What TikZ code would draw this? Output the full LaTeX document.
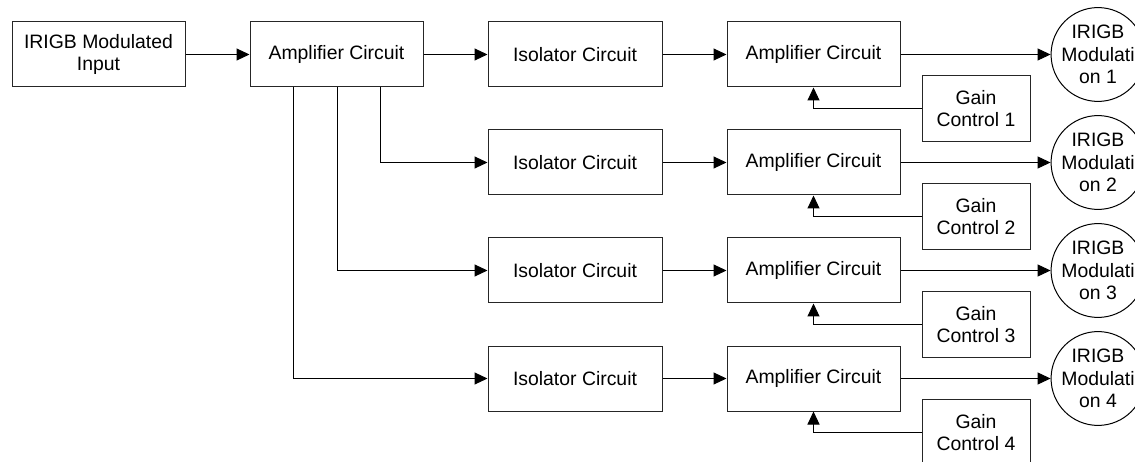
\documentclass[tikz,border=0pt]{standalone}
\usepackage{fontspec}
\setmainfont{Liberation Sans}
\usetikzlibrary{arrows.meta}
\begin{document}
\begin{tikzpicture}[x=1pt,y=-1pt,
  font=\fontsize{19.4}{22.5}\selectfont,
  blockbox/.style={draw=black!85, line width=1pt, inner sep=0pt, align=center,
    minimum width=173pt, minimum height=65pt},
  gainbox/.style={blockbox, minimum width=108pt, minimum height=66pt},
  outcircle/.style={draw=black, line width=1pt, circle, inner sep=0pt,
    minimum size=92pt, align=center},
  link/.style={draw=black, line width=1pt},
  feed/.style={link, -{Triangle[length=13pt,width=12pt]}}]
\useasboundingbox (0,0) rectangle (1135,462);
\clip (0,0) rectangle (1135,462);

% input stage
\node[blockbox] (in) at (98.5,54.5) {IRIGB Modulated\\Input};
\node[blockbox] (amp0) at (336.5,54.5) {Amplifier Circuit};
\draw[feed] (in) -- (amp0);

% taps on the lower edge of the first amplifier
\coordinate (tapB) at (380,0);
\coordinate (tapC) at (337,0);
\coordinate (tapD) at (293,0);

% four output channels
\foreach \i/\y in {1/54.5, 2/162.5, 3/270.5, 4/378.5} {
  \node[blockbox, minimum width=174pt] (iso\i) at (575,\y) {Isolator Circuit};
  \node[blockbox] (amp\i) at (813.5,\y) {Amplifier Circuit};
  \node[gainbox] (gain\i) at (976,\y+54) {Gain\\Control \i};
  \node[outcircle] (out\i) at (1098,\y) {IRIGB\\Modulati\\on \i};
  \draw[feed] (iso\i) -- (amp\i);
  \draw[feed] (amp\i) -- (out\i);
  \draw[feed] (gain\i.west) -| (amp\i.south);
}

% splitting the first amplifier output
\draw[feed] (amp0) -- (iso1);
\draw[feed] (amp0.south -| tapB) |- (iso2);
\draw[feed] (amp0.south -| tapC) |- (iso3);
\draw[feed] (amp0.south -| tapD) |- (iso4);
\end{tikzpicture}
\end{document}
